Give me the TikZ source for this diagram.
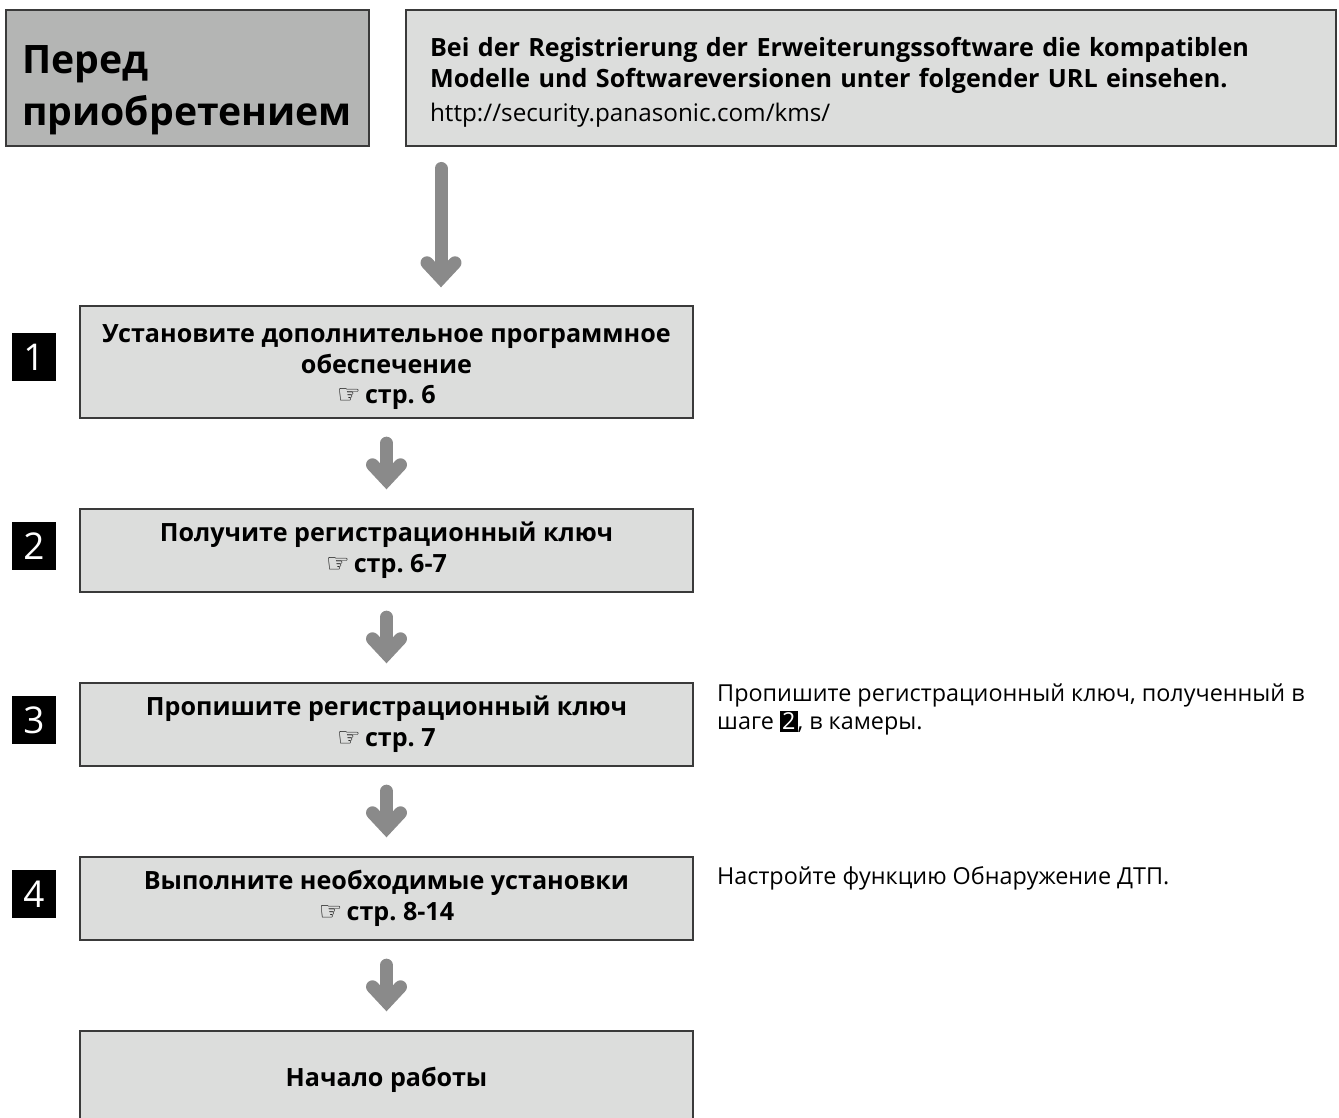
\documentclass[tikz,border=0pt]{standalone}
\usepackage{fontspec}
\setmainfont{Open Sans}
\newfontfamily\handfont{DejaVu Sans}
\usetikzlibrary{arrows.meta,positioning}

\definecolor{boxgray}{HTML}{DCDDDC}
\definecolor{pregray}{HTML}{B4B5B4}
\definecolor{arrowgray}{HTML}{8A8A8A}
\definecolor{edgegray}{HTML}{3A3A3A}

% page reference with pointing hand
\newcommand{\seepage}[1]{{\handfont\mdseries\fontsize{15}{15}\selectfont ☞}\,стр.~#1}
\newcommand{\stepref}[1]{{\setlength{\fboxsep}{1.2pt}\colorbox{black}{\textcolor{white}{\mdseries #1}}}}

\begin{document}
\begin{tikzpicture}[
  x=0.02cm,y=-0.02cm,
  every node/.style={font=\fontsize{14.3}{17.6}\selectfont\bfseries},
  topbox/.style={rectangle,draw=edgegray,line width=0.8pt,minimum height=2.72cm,align=left,inner ysep=0pt},
  stepbox/.style={rectangle,draw=edgegray,line width=0.8pt,fill=boxgray,minimum width=12.26cm,minimum height=1.66cm,align=center,inner sep=0pt},
  numbox/.style={fill=black,text=white,minimum width=0.88cm,minimum height=0.96cm,inner sep=0pt,font=\fontsize{21}{21}\selectfont},
  flow/.style={draw=arrowgray,line width=0.26cm,line cap=round,shorten <=0.49cm,shorten >=0.38cm,
    -{Straight Barb[length=0.3cm,width=0.56cm,line cap=round,line join=miter]}},
  note/.style={anchor=west,align=left,font=\fontsize{13.3}{16.4}\selectfont}
]
\clip (0,0) rectangle (1339,1118);

% header
\node[topbox,fill=pregray,text width=6.62cm,inner xsep=0.32cm,font=\fontsize{22.3}{30}\selectfont\bfseries]
  (pre) at (187.5,78) {\rule{0pt}{30pt}Перед\\приобретением};
\node[topbox,fill=boxgray,text width=17.64cm,inner xsep=0.48cm]
  (url) at (871,78) {\rule{0pt}{16pt}Bei der Registrierung der Erweiterungssoftware die kompatiblen\\
  Modelle und Softwareversionen unter folgender URL einsehen.\\[2pt]
  {\mdseries\fontsize{13.8}{16}\selectfont http://security.panasonic.com/kms/}};
\coordinate (bigstart) at (441,162);

% steps
\node[stepbox,minimum height=2.24cm] (install) at (386.5,362)
  {\rule{0pt}{16pt}Установите дополнительное программное\\обеспечение\\\seepage{6}};
\node[stepbox] (getkey) at (386.5,550.5) {Получите регистрационный ключ\\\seepage{6-7}};
\node[stepbox] (writekey) at (386.5,724.5) {Пропишите регистрационный ключ\\\seepage{7}};
\node[stepbox] (setup) at (386.5,898.5) {Выполните необходимые установки\\\seepage{8-14}};
\node[stepbox,minimum height=1.96cm] (start) at (386.5,1080) {Начало работы};

\node[numbox] (n1) at (34,357) {1};
\node[numbox] (n2) at (34,546) {2};
\node[numbox] (n3) at (34,720) {3};
\node[numbox] (n4) at (34,894) {4};

% notes
\node[note] (note3) at (711,709.5)
  {Пропишите регистрационный ключ, полученный в\\шаге \stepref{2}, в камеры.};
\node[note] (note4) at (711,878) {Настройте функцию Обнаружение ДТП.};

% arrows
\draw[flow,shorten <=0.13cm,shorten >=0.36cm] (bigstart) -- (install.north -| bigstart);
\draw[flow] (install) -- (getkey);
\draw[flow] (getkey) -- (writekey);
\draw[flow] (writekey) -- (setup);
\draw[flow] (setup) -- (start);
\end{tikzpicture}
\end{document}
